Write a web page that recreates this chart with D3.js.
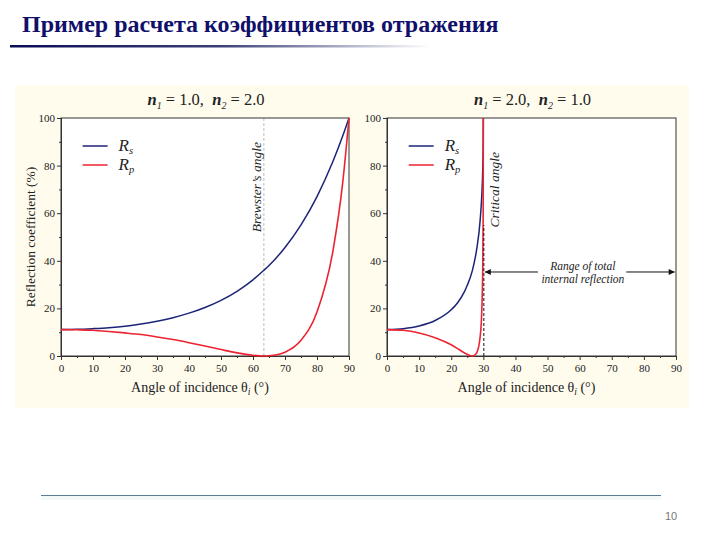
<!DOCTYPE html>
<html><head><meta charset="utf-8">
<script src="https://cdn.jsdelivr.net/npm/d3@7"></script>
<style>body{margin:0;background:#fff}svg{display:block}</style>
</head><body>
<script>
// ---- data ----
const pageTitle = "Пример расчета коэффициентов отражения";
const pageNumber = "10";
const anglesL = [0,5,10,15,20,25,30,35,40,45,50,55,60,63.4,65,70,75,80,85,88,90];
const rsL = [11.1,11.2,11.5,11.9,12.5,13.4,14.6,16.1,18.0,20.4,23.4,27.2,32.0,36.0,38.0,45.6,55.1,67.0,81.8,92.3,100];
const rpL = [11.1,11.0,10.8,10.3,9.7,9.0,8.0,6.9,5.6,4.2,2.7,1.3,0.3,0,0.1,1.6,6.6,18.5,44.3,72.4,100];
const anglesR = [0,5,10,15,20,22,24,25,26.6,27,28,29,29.5,29.8,29.95,30];
const rsR = [11.1,11.5,12.6,14.9,19.4,22.4,26.7,29.7,36.0,38.3,45.4,56.9,67.0,77.6,88.1,100];
const rpR = [11.1,10.8,9.7,7.7,4.7,3.1,1.4,0.7,0,0.1,1.5,8.0,18.5,35.5,60.0,100];
const xTicks = [0,10,20,30,40,50,60,70,80,90];
const xMinor = [5,15,25,35,45,55,65,75,85];
const yTicks = [0,20,40,60,80,100];
const yMinor = [10,30,50,70,90];
const brewsterAngle = 63.4;
const criticalAngle = 30;
const tirArrowY = 35.3;

const W = 720, H = 540;
const svg = d3.select("body").append("svg").attr("width", W).attr("height", H);
const defs = svg.append("defs");
const g1 = defs.append("linearGradient").attr("id","tl").attr("x1","0%").attr("x2","100%");
g1.append("stop").attr("offset","0%").attr("stop-color","#0b0b55");
g1.append("stop").attr("offset","50%").attr("stop-color","#3a3f78");
g1.append("stop").attr("offset","100%").attr("stop-color","#ffffff");

// page title
svg.append("text").attr("x",22).attr("y",32).text(pageTitle)
  .attr("font-family","Liberation Serif").attr("font-weight","bold").attr("font-size",24)
  .attr("fill","#10106a");
svg.append("rect").attr("x",10).attr("y",45).attr("width",420).attr("height",2.5).attr("fill","url(#tl)");

// cream panel
svg.append("rect").attr("x",15).attr("y",85).attr("width",674).attr("height",323).attr("fill","#fffcee");

// bottom line & page number
svg.append("rect").attr("x",41).attr("y",496).attr("width",620).attr("height",4).attr("fill","#f2f9f8");
svg.append("line").attr("x1",41).attr("x2",661).attr("y1",495.5).attr("y2",495.5).attr("stroke","#5e7d92").attr("stroke-width",1);
svg.append("text").attr("x",671).attr("y",520).attr("text-anchor","middle").text(pageNumber)
  .attr("font-family","Liberation Sans").attr("font-size",11).attr("fill","#777");

const serif = "Liberation Serif";
const blue = "#1c2477", red = "#ec2330";

defs.append("marker").attr("id","ah").attr("viewBox","0 0 10 10").attr("refX",10).attr("refY",5)
  .attr("markerWidth",9).attr("markerHeight",6).attr("markerUnits","userSpaceOnUse").attr("orient","auto-start-reverse")
  .append("path").attr("d","M0,0L10,5L0,10z").attr("fill","#111");

function panel(x0, x1, angles, rs, rp, n1, n2, showYTitle) {
  const x = d3.scaleLinear().domain([0,90]).range([x0,x1]);
  const y = d3.scaleLinear().domain([0,100]).range([356,118]);
  const g = svg.append("g");
  g.append("rect").attr("x",x0).attr("y",118).attr("width",x1-x0).attr("height",238).attr("fill","#fff");

  const fontAxis = sel => sel.selectAll("text").attr("font-family",serif).attr("font-size",11).attr("fill","#222");
  const ax = g.append("g").attr("transform","translate(0,356)")
    .call(d3.axisBottom(x).tickValues(xTicks).tickSize(4).tickPadding(4).tickFormat(d3.format("d")));
  fontAxis(ax);
  g.append("g").attr("transform","translate(0,356)")
    .call(d3.axisBottom(x).tickValues(xMinor).tickSize(2).tickFormat(""));
  const ay = g.append("g").attr("transform",`translate(${x0},0)`)
    .call(d3.axisLeft(y).tickValues(yTicks).tickSize(4).tickPadding(2).tickFormat(d3.format("d")));
  fontAxis(ay);
  g.append("g").attr("transform",`translate(${x0},0)`)
    .call(d3.axisLeft(y).tickValues(yMinor).tickSize(2).tickFormat(""));
  g.selectAll(".domain").attr("stroke","#333");
  g.selectAll(".tick line").attr("stroke","#333");
  g.append("rect").attr("x",x0).attr("y",118).attr("width",x1-x0).attr("height",238)
    .attr("fill","none").attr("stroke","#333").attr("stroke-width",1);

  // title n1, n2
  const t = g.append("text").attr("x",(x0+x1)/2+1).attr("y",105).attr("text-anchor","middle")
    .attr("font-family",serif).attr("font-size",16.5).attr("fill","#222").attr("xml:space","preserve")
    .style("white-space","pre");
  t.append("tspan").attr("font-style","italic").attr("font-weight","bold").text("n");
  t.append("tspan").attr("font-style","italic").attr("font-size",10).attr("dy",4).text("1");
  t.append("tspan").attr("dy",-4).text(` = ${n1},  `);
  t.append("tspan").attr("font-style","italic").attr("font-weight","bold").text("n");
  t.append("tspan").attr("font-style","italic").attr("font-size",10).attr("dy",4).text("2");
  t.append("tspan").attr("dy",-4).text(` = ${n2}`);

  // x title
  const xt = g.append("text").attr("x",(x0+x1)/2-5).attr("y",392).attr("text-anchor","middle")
    .attr("font-family",serif).attr("font-size",14).attr("fill","#222");
  xt.append("tspan").text("Angle of incidence θ");
  xt.append("tspan").attr("font-style","italic").attr("font-size",9.5).attr("dy",3).text("i");
  xt.append("tspan").attr("dy",-3).text(" (°)");
  if (showYTitle) {
    g.append("text").attr("transform",`translate(35,${(118+356)/2}) rotate(-90)`).attr("text-anchor","middle")
      .attr("font-family",serif).attr("font-size",13.5).attr("fill","#222").text("Reflection coefficient (%)");
  }

  // curves
  const ptsS = angles.map((a,i)=>[a,rs[i]]);
  const ptsP = angles.map((a,i)=>[a,rp[i]]);
  const line = d3.line().x(d=>x(d[0])).y(d=>y(d[1])).curve(d3.curveMonotoneX);
  g.append("path").attr("d",line(ptsS)).attr("fill","none").attr("stroke",blue).attr("stroke-width",1.5);
  g.append("path").attr("d",line(ptsP)).attr("fill","none").attr("stroke",red).attr("stroke-width",1.6);

  // legend
  const lx = x0 + (x1-x0)*0.075, items = [["s",blue,146],["p",red,165]];
  items.forEach(([sub,c,yy])=>{
    g.append("line").attr("x1",lx).attr("x2",lx+25).attr("y1",yy).attr("y2",yy).attr("stroke",c).attr("stroke-width",1.5);
    const tt = g.append("text").attr("x",lx+36).attr("y",yy+5).attr("font-family",serif).attr("font-size",17)
      .attr("font-style","italic").attr("fill","#222");
    tt.append("tspan").text("R");
    tt.append("tspan").attr("font-size",10.5).attr("dy",3).text(sub);
  });
  return {g,x,y};
}

const L = panel(61, 349, anglesL, rsL, rpL, "1.0", "2.0", true);
const R = panel(387, 676, anglesR, rsR, rpR, "2.0", "1.0", false);

// Brewster line
L.g.insert("line",":nth-child(2)").attr("x1",L.x(brewsterAngle)).attr("x2",L.x(brewsterAngle))
  .attr("y1",L.y(0)).attr("y2",L.y(100)).attr("stroke","#aaa").attr("stroke-width",0.8).attr("stroke-dasharray","3,2");
L.g.append("text").attr("transform",`translate(${L.x(brewsterAngle)-3},${L.y(52)}) rotate(-90)`)
  .attr("font-family",serif).attr("font-style","italic").attr("font-size",13.5).attr("fill","#222").text("Brewster’s angle");

// Critical angle line
R.g.append("line").attr("x1",R.x(criticalAngle)+0.5).attr("x2",R.x(criticalAngle)+0.5)
  .attr("y1",R.y(0)).attr("y2",R.y(55)).attr("stroke","#111").attr("stroke-width",1).attr("stroke-dasharray","3,2");
R.g.append("text").attr("transform",`translate(${R.x(criticalAngle)+16},${R.y(54)}) rotate(-90)`)
  .attr("font-family",serif).attr("font-style","italic").attr("font-size",13.5).attr("fill","#222").text("Critical angle");

// total internal reflection arrows
const ay = R.y(tirArrowY);
R.g.append("line").attr("x1",R.x(47)).attr("x2",R.x(criticalAngle)+1.5).attr("y1",ay).attr("y2",ay)
  .attr("stroke","#111").attr("stroke-width",1).attr("marker-end","url(#ah)");
R.g.append("line").attr("x1",R.x(74.5)).attr("x2",R.x(89.6)).attr("y1",ay).attr("y2",ay)
  .attr("stroke","#111").attr("stroke-width",1).attr("marker-end","url(#ah)");
const tir = R.g.append("text").attr("x",R.x(61)).attr("font-family",serif).attr("font-style","italic")
  .attr("font-size",11.5).attr("fill","#222").attr("text-anchor","middle");
tir.append("tspan").attr("x",R.x(61)).attr("y",ay-2).text("Range of total");
tir.append("tspan").attr("x",R.x(61)).attr("y",ay+11).text("internal reflection");
</script>
</body></html>
